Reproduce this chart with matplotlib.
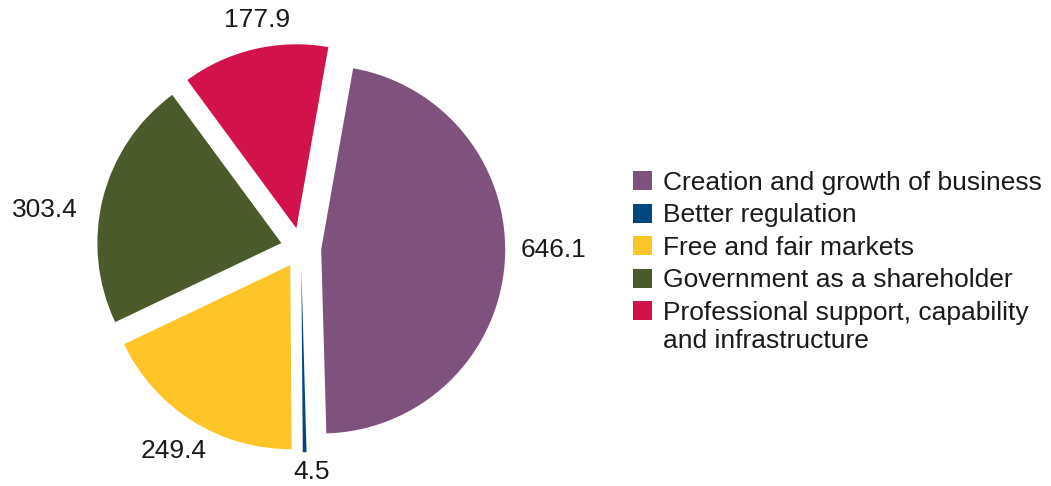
import numpy as np
from matplotlib import pyplot as plt
from matplotlib.patches import Patch, Rectangle
from matplotlib.legend_handler import HandlerPatch

plt.rcParams['font.family'] = ['Liberation Sans', 'DejaVu Sans']

# Data
categories = ["Creation and growth of business", "Better regulation",
              "Free and fair markets", "Government as a shareholder",
              "Professional support, capability\nand infrastructure"]
values = [646.1, 4.5, 249.4, 303.4, 177.9]
value_labels = ["646.1", "4.5", "249.4", "303.4", "177.9"]
colors = ["#7F527D", "#004680", "#FDC527", "#4B5A2B", "#D2124A"]

# label placement: distance from pie centre (radii) and angle nudge (deg)
label_dist = [1.375, 1.22, 1.30, 1.41, 1.26]
label_nudge = [3.7, 1.6, 0.0, 5.6, -2.3]

W, H = 1051, 486
fig = plt.figure(figsize=(W / 100, H / 100), dpi=100)
ax = fig.add_axes([0, 0, 1, 1])

cx, cy, r = 301, 248, 184

wedges, _ = ax.pie(values, colors=colors, startangle=80, counterclock=False,
                   explode=[0.11] * len(values), radius=1,
                   wedgeprops=dict(linewidth=0))
ax.set_aspect("auto")
ax.set_xlim(-cx / r, (W - cx) / r)
ax.set_ylim((cy - H) / r, cy / r)
ax.axis("off")

for w, lab, d, n in zip(wedges, value_labels, label_dist, label_nudge):
    mid = np.deg2rad((w.theta1 + w.theta2) / 2 + n)
    ax.text(d * np.cos(mid), d * np.sin(mid), lab, ha="center", va="center",
            fontsize=19, color="#1a1a1a")


# square handle; for the two-line entry keep it level with the first line
def square(legend, orig_handle, xdescent, ydescent, width, height, fontsize):
    shift = 0.0
    if orig_handle.get_label() == "top":
        shift = 0.62 * fontsize
    return Rectangle((-xdescent, -ydescent + shift), width, height)


handles = [Patch(facecolor=c, edgecolor="none") for c in colors]
handles[-1].set_label("top")
fig.legend(handles, categories, loc="upper left", bbox_to_anchor=(633 / W, 1 - 171 / H),
           frameon=False, fontsize=19, handlelength=0.72, handleheight=0.72,
           handletextpad=0.42, labelspacing=0.32, borderpad=0, borderaxespad=0,
           labelcolor="#1a1a1a", handler_map={Patch: HandlerPatch(patch_func=square)})

fig.savefig("out.png", dpi=100)
